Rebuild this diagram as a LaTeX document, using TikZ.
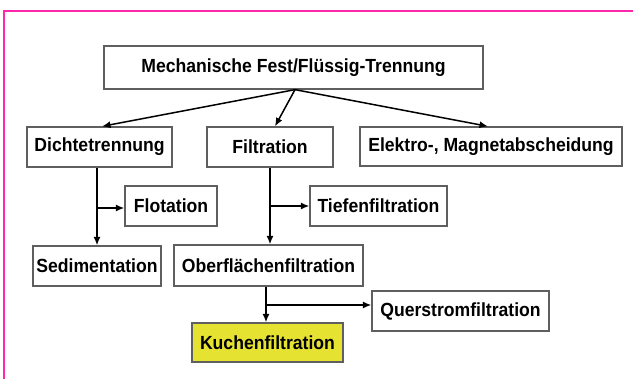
\documentclass[tikz,border=0pt]{standalone}
\usepackage{fontspec}
\usepackage{graphicx}
\setmainfont{Liberation Sans}
\usetikzlibrary{arrows.meta,calc}
\definecolor{frame}{RGB}{255,40,170}
\definecolor{boxline}{RGB}{95,95,95}
\definecolor{kuchen}{RGB}{230,226,50}
\newcommand{\boxtxt}[1]{\scalebox{1}[1.08]{#1}}
\tikzset{
  box/.style={draw=boxline,line width=1.3pt,inner sep=0pt,minimum height=40pt,
    font=\fontsize{17.6}{20}\selectfont\bfseries,text=black,anchor=center},
  conn/.style={line width=1.5pt,-{Latex[length=8.5pt,width=7pt]}}
}
\begin{document}
\begin{tikzpicture}[x=1pt,y=-1pt]
\useasboundingbox (0,0) rectangle (633,379);
\fill[white] (0,0) rectangle (633,379);
\draw[frame,line width=2pt] (4,379) -- (4,11) -- (633,11);

\node[box,minimum width=379pt,minimum height=43pt] (top) at (293.5,67.5) {\boxtxt{Mechanische Fest/Flüssig-Trennung}};
\node[box,minimum width=145pt] (dichte) at (99.5,147) {\boxtxt{Dichtetrennung}};
\node[box,minimum width=126pt] (filt) at (270,147) {\boxtxt{Filtration}};
\node[box,minimum width=262pt,minimum height=39pt] (elektro) at (491,146.5) {\boxtxt{Elektro-, Magnetabscheidung}};
\node[box,minimum width=92pt] (flot) at (171,206) {\boxtxt{Flotation}};
\node[box,minimum width=137pt] (tiefen) at (378.5,206) {\boxtxt{Tiefenfiltration}};
\node[box,minimum width=128pt] (sedi) at (97,266) {\boxtxt{Sedimentation}};
\node[box,minimum width=189pt,minimum height=41pt] (ober) at (268.5,265.5) {\boxtxt{Oberflächenfiltration}};
\node[box,minimum width=177pt] (quer) at (460.5,311) {\boxtxt{Querstromfiltration}};
\node[box,minimum width=151pt,minimum height=39pt,fill=kuchen] (kuchen) at (267.5,342.5) {\boxtxt{Kuchenfiltration}};

\coordinate (t0) at ($(top.south)+(1.5,0)$);
\draw[conn] (t0) -- ($(dichte.north)+(2.5,0)$);
\draw[conn] (t0) -- ($(filt.north)+(5,0)$);
\draw[conn] (t0) -- ($(elektro.north)+(-3,0)$);

\draw[conn] (sedi.north |- dichte.south) -- (sedi.north);
\draw[conn] ($(flot.west -| sedi.north)+(0,2)$) -- ($(flot.west)+(0,2)$);

\draw[conn] (filt.south) -- (filt.south |- ober.north);
\draw[conn] (filt.south |- tiefen.west) -- (tiefen.west);

\coordinate (o0) at ($(ober.south)+(-2.5,0)$);
\draw[conn] (o0) -- (o0 |- kuchen.north);
\draw[conn] ($(o0 |- quer.west)+(0,-6)$) -- ($(quer.west)+(0,-6)$);
\end{tikzpicture}
\end{document}
